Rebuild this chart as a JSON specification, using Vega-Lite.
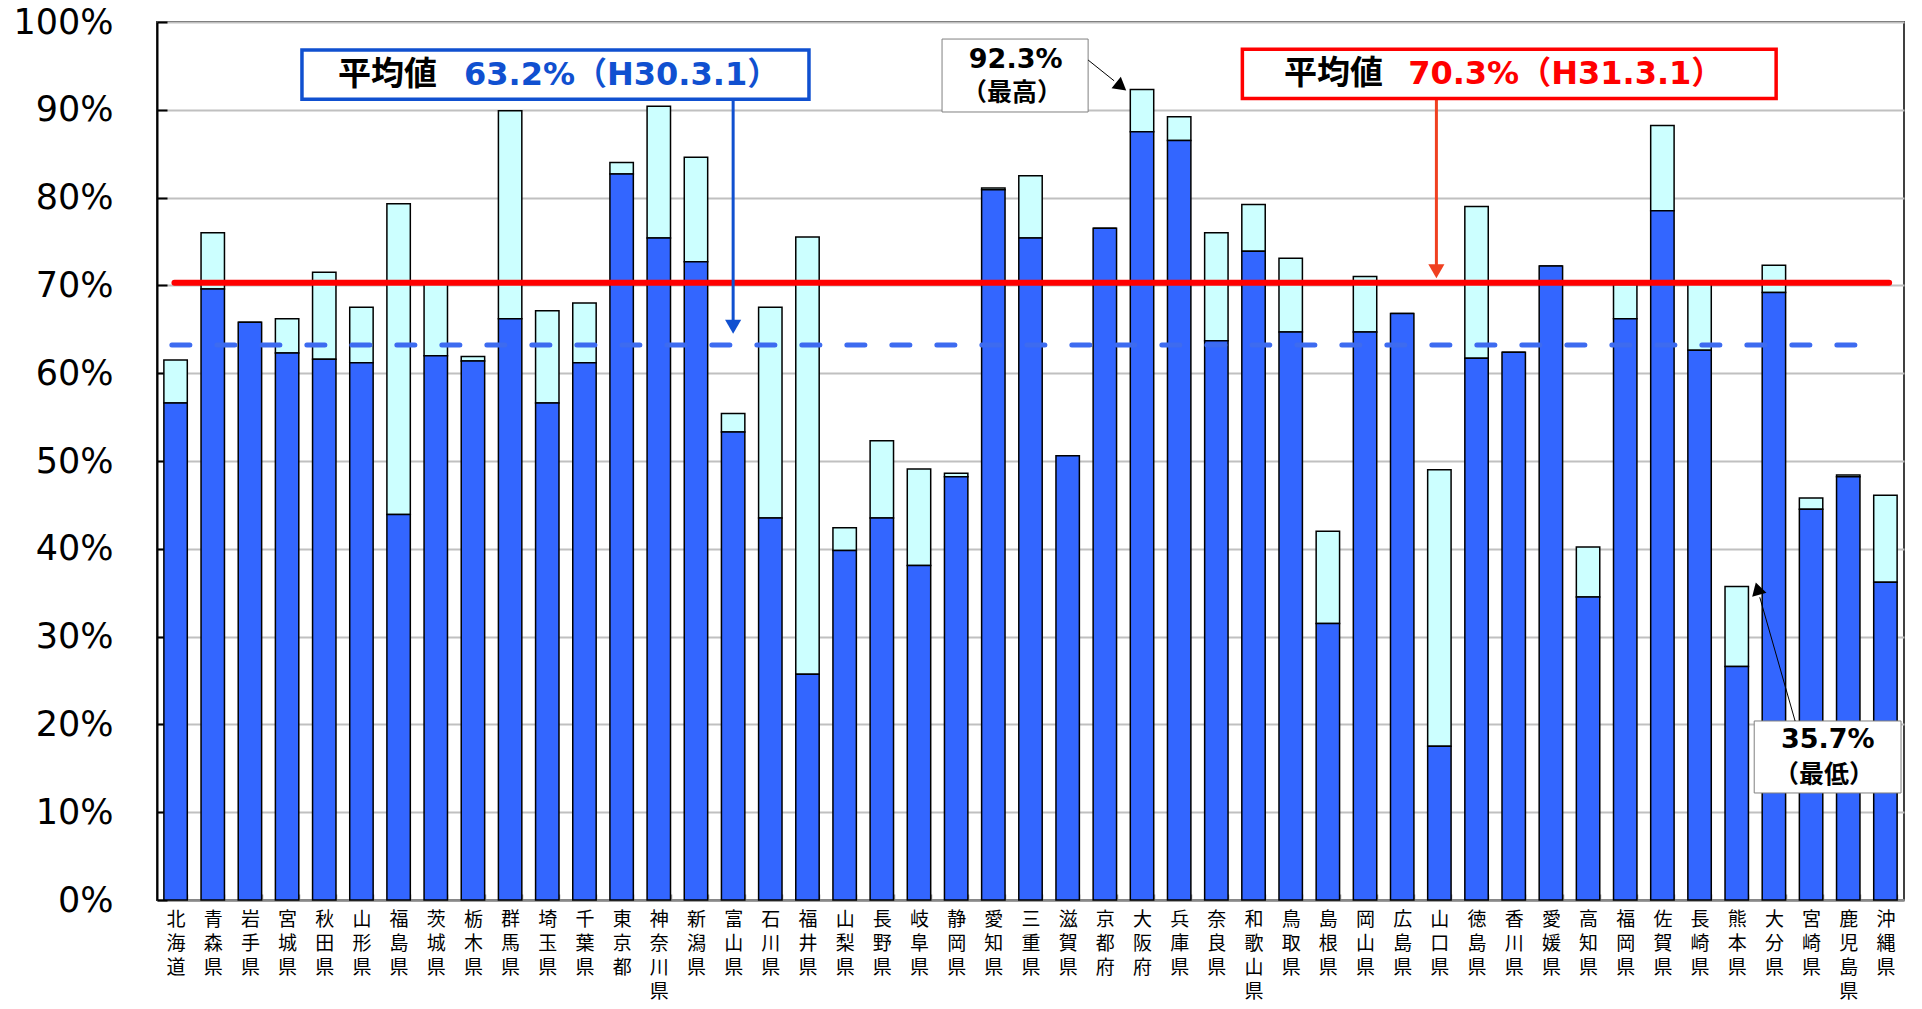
{
  "$schema": "https://vega.github.io/schema/vega-lite/v6.json",
  "width": 1747,
  "height": 878,
  "autosize": {"type": "none"},
  "padding": {"left": 157, "top": 22, "right": 18, "bottom": 109},
  "background": "white",
  "config": {
    "view": {"stroke": "#404040", "strokeWidth": 2},
    "font": "Noto Sans CJK JP"
  },
  "layer": [
    {
      "data": {
        "values": [
          {"pref": "北海道", "h30": 56.6, "h31": 61.5},
          {"pref": "青森県", "h30": 69.6, "h31": 76.0},
          {"pref": "岩手県", "h30": 65.8, "h31": 65.8},
          {"pref": "宮城県", "h30": 62.3, "h31": 66.2},
          {"pref": "秋田県", "h30": 61.6, "h31": 71.5},
          {"pref": "山形県", "h30": 61.2, "h31": 67.5},
          {"pref": "福島県", "h30": 43.9, "h31": 79.3},
          {"pref": "茨城県", "h30": 62.0, "h31": 70.2},
          {"pref": "栃木県", "h30": 61.4, "h31": 61.9},
          {"pref": "群馬県", "h30": 66.2, "h31": 89.9},
          {"pref": "埼玉県", "h30": 56.6, "h31": 67.1},
          {"pref": "千葉県", "h30": 61.2, "h31": 68.0},
          {"pref": "東京都", "h30": 82.7, "h31": 84.0},
          {"pref": "神奈川県", "h30": 75.4, "h31": 90.4},
          {"pref": "新潟県", "h30": 72.7, "h31": 84.6},
          {"pref": "富山県", "h30": 53.3, "h31": 55.4},
          {"pref": "石川県", "h30": 43.5, "h31": 67.5},
          {"pref": "福井県", "h30": 25.7, "h31": 75.5},
          {"pref": "山梨県", "h30": 39.8, "h31": 42.4},
          {"pref": "長野県", "h30": 43.5, "h31": 52.3},
          {"pref": "岐阜県", "h30": 38.1, "h31": 49.1},
          {"pref": "静岡県", "h30": 48.2, "h31": 48.6},
          {"pref": "愛知県", "h30": 80.9, "h31": 81.1},
          {"pref": "三重県", "h30": 75.4, "h31": 82.5},
          {"pref": "滋賀県", "h30": 50.6, "h31": 50.6},
          {"pref": "京都府", "h30": 76.5, "h31": 76.5},
          {"pref": "大阪府", "h30": 87.5, "h31": 92.3},
          {"pref": "兵庫県", "h30": 86.5, "h31": 89.2},
          {"pref": "奈良県", "h30": 63.7, "h31": 76.0},
          {"pref": "和歌山県", "h30": 73.9, "h31": 79.2},
          {"pref": "鳥取県", "h30": 64.7, "h31": 73.1},
          {"pref": "島根県", "h30": 31.5, "h31": 42.0},
          {"pref": "岡山県", "h30": 64.7, "h31": 71.0},
          {"pref": "広島県", "h30": 66.8, "h31": 66.8},
          {"pref": "山口県", "h30": 17.5, "h31": 49.0},
          {"pref": "徳島県", "h30": 61.7, "h31": 79.0},
          {"pref": "香川県", "h30": 62.4, "h31": 62.4},
          {"pref": "愛媛県", "h30": 72.2, "h31": 72.2},
          {"pref": "高知県", "h30": 34.5, "h31": 40.2},
          {"pref": "福岡県", "h30": 66.2, "h31": 70.1},
          {"pref": "佐賀県", "h30": 78.5, "h31": 88.2},
          {"pref": "長崎県", "h30": 62.6, "h31": 70.4},
          {"pref": "熊本県", "h30": 26.6, "h31": 35.7},
          {"pref": "大分県", "h30": 69.2, "h31": 72.3},
          {"pref": "宮崎県", "h30": 44.5, "h31": 45.8},
          {"pref": "鹿児島県", "h30": 48.2, "h31": 48.4},
          {"pref": "沖縄県", "h30": 36.2, "h31": 46.1}
        ]
      },
      "encoding": {
        "x": {
          "field": "pref", "type": "nominal", "sort": null,
          "scale": {"paddingInner": 0.37, "paddingOuter": 0.185},
          "axis": {
            "title": null, "labelAngle": 0,
            "labelExpr": "split(datum.label, '')",
            "labelFont": "Noto Sans CJK JP", "labelFontSize": 19, "labelLineHeight": 24,
            "labelColor": "#000", "labelPadding": 16, "labelBaseline": "top",
            "labelOverlap": false, "labelLimit": 0,
            "tickBand": "extent", "tickSize": -6, "tickColor": "#999", "tickWidth": 1.5,
            "domainColor": "#888", "domainWidth": 2.5, "grid": false
          }
        }
      },
      "layer": [
        {
          "mark": {"type": "bar", "fill": "#CCFFFF", "stroke": "#000", "strokeWidth": 1.5},
          "encoding": {
            "y": {
              "field": "h30", "type": "quantitative",
              "scale": {"domain": [0, 100], "nice": false},
              "axis": {
                "title": null, "values": [0, 10, 20, 30, 40, 50, 60, 70, 80, 90, 100],
                "labelExpr": "datum.value + '%'",
                "labelFont": "DejaVu Sans", "labelFontSize": 35, "labelColor": "#000",
                "labelPadding": 54, "tickSize": -10, "tickColor": "#000", "tickWidth": 2,
                "domainColor": "#000", "domainWidth": 2,
                "grid": true, "gridColor": "#C0C0C0", "gridWidth": 2
              }
            },
            "y2": {"field": "h31"}
          }
        },
        {
          "mark": {"type": "bar", "fill": "#3366FF", "stroke": "#000", "strokeWidth": 1.5},
          "encoding": {
            "y": {"field": "h30", "type": "quantitative"}
          }
        }
      ]
    },
    {
      "data": {"values": [{}]},
      "layer": [
        {
          "mark": {"type": "rule", "color": "#FF0000", "strokeWidth": 6, "strokeCap": "round"},
          "encoding": {
            "x": {"datum": 0.47, "type": "quantitative", "scale": {"domain": [0, 47], "nice": false, "zero": false}, "axis": null},
            "x2": {"datum": 46.6},
            "y": {"datum": 70.3, "type": "quantitative", "scale": {"domain": [0, 100], "nice": false}, "axis": null}
          }
        },
        {
          "mark": {"type": "rule", "color": "#3D6BF0", "strokeWidth": 5, "strokeCap": "round", "strokeDash": [18, 27]},
          "encoding": {
            "x": {"datum": 0.4, "type": "quantitative", "scale": {"domain": [0, 47], "nice": false, "zero": false}, "axis": null},
            "x2": {"datum": 46.3},
            "y": {"datum": 63.2, "type": "quantitative", "scale": {"domain": [0, 100], "nice": false}, "axis": null}
          }
        },
        {
          "mark": {"type": "rule", "color": "#1050D0", "strokeWidth": 3},
          "encoding": {
            "x": {"datum": 15.5, "type": "quantitative", "scale": {"domain": [0, 47], "nice": false, "zero": false}, "axis": null},
            "y": {"datum": 91.2, "type": "quantitative", "scale": {"domain": [0, 100], "nice": false}, "axis": null},
            "y2": {"datum": 66.0}
          }
        },
        {
          "mark": {"type": "point", "shape": "triangle-down", "filled": true, "color": "#1050D0", "opacity": 1, "size": 260},
          "encoding": {
            "x": {"datum": 15.5, "type": "quantitative", "scale": {"domain": [0, 47], "nice": false, "zero": false}, "axis": null},
            "y": {"datum": 65.3, "type": "quantitative", "scale": {"domain": [0, 100], "nice": false}, "axis": null}
          }
        },
        {
          "mark": {"type": "rule", "color": "#F04020", "strokeWidth": 3},
          "encoding": {
            "x": {"datum": 34.42, "type": "quantitative", "scale": {"domain": [0, 47], "nice": false, "zero": false}, "axis": null},
            "y": {"datum": 91.3, "type": "quantitative", "scale": {"domain": [0, 100], "nice": false}, "axis": null},
            "y2": {"datum": 72.2}
          }
        },
        {
          "mark": {"type": "point", "shape": "triangle-down", "filled": true, "color": "#F04020", "opacity": 1, "size": 260},
          "encoding": {
            "x": {"datum": 34.42, "type": "quantitative", "scale": {"domain": [0, 47], "nice": false, "zero": false}, "axis": null},
            "y": {"datum": 71.6, "type": "quantitative", "scale": {"domain": [0, 100], "nice": false}, "axis": null}
          }
        },
        {
          "mark": {"type": "rect", "fill": "white", "stroke": "#1050D0", "strokeWidth": 3.5},
          "encoding": {
            "x": {"datum": 3.9, "type": "quantitative", "scale": {"domain": [0, 47], "nice": false, "zero": false}, "axis": null},
            "x2": {"datum": 17.54},
            "y": {"datum": 96.8, "type": "quantitative", "scale": {"domain": [0, 100], "nice": false}, "axis": null},
            "y2": {"datum": 91.2}
          }
        },
        {
          "mark": {"type": "text", "text": "平均値", "font": "Noto Sans CJK JP", "fontWeight": "bold", "fontSize": 33, "align": "left", "baseline": "middle", "color": "#000"},
          "encoding": {
            "x": {"datum": 4.87, "type": "quantitative", "scale": {"domain": [0, 47], "nice": false, "zero": false}, "axis": null},
            "y": {"datum": 94.0, "type": "quantitative", "scale": {"domain": [0, 100], "nice": false}, "axis": null}
          }
        },
        {
          "mark": {"type": "text", "text": "63.2%（H30.3.1）", "font": "DejaVu Sans, Noto Sans CJK JP", "fontWeight": "bold", "fontSize": 32, "align": "left", "baseline": "middle", "color": "#1050D0"},
          "encoding": {
            "x": {"datum": 8.26, "type": "quantitative", "scale": {"domain": [0, 47], "nice": false, "zero": false}, "axis": null},
            "y": {"datum": 94.0, "type": "quantitative", "scale": {"domain": [0, 100], "nice": false}, "axis": null}
          }
        },
        {
          "mark": {"type": "rect", "fill": "white", "stroke": "#FF0000", "strokeWidth": 3.5},
          "encoding": {
            "x": {"datum": 29.2, "type": "quantitative", "scale": {"domain": [0, 47], "nice": false, "zero": false}, "axis": null},
            "x2": {"datum": 43.56},
            "y": {"datum": 96.9, "type": "quantitative", "scale": {"domain": [0, 100], "nice": false}, "axis": null},
            "y2": {"datum": 91.3}
          }
        },
        {
          "mark": {"type": "text", "text": "平均値", "font": "Noto Sans CJK JP", "fontWeight": "bold", "fontSize": 33, "align": "left", "baseline": "middle", "color": "#000"},
          "encoding": {
            "x": {"datum": 30.32, "type": "quantitative", "scale": {"domain": [0, 47], "nice": false, "zero": false}, "axis": null},
            "y": {"datum": 94.1, "type": "quantitative", "scale": {"domain": [0, 100], "nice": false}, "axis": null}
          }
        },
        {
          "mark": {"type": "text", "text": "70.3%（H31.3.1）", "font": "DejaVu Sans, Noto Sans CJK JP", "fontWeight": "bold", "fontSize": 32, "align": "left", "baseline": "middle", "color": "#FF0000"},
          "encoding": {
            "x": {"datum": 33.66, "type": "quantitative", "scale": {"domain": [0, 47], "nice": false, "zero": false}, "axis": null},
            "y": {"datum": 94.1, "type": "quantitative", "scale": {"domain": [0, 100], "nice": false}, "axis": null}
          }
        },
        {
          "mark": {"type": "rect", "fill": "white", "stroke": "#808080", "strokeWidth": 1},
          "encoding": {
            "x": {"datum": 21.12, "type": "quantitative", "scale": {"domain": [0, 47], "nice": false, "zero": false}, "axis": null},
            "x2": {"datum": 25.05},
            "y": {"datum": 98.06, "type": "quantitative", "scale": {"domain": [0, 100], "nice": false}, "axis": null},
            "y2": {"datum": 89.75}
          }
        },
        {
          "mark": {"type": "text", "text": "92.3%", "font": "DejaVu Sans", "fontWeight": "bold", "fontSize": 27, "align": "center", "baseline": "middle", "color": "#000"},
          "encoding": {
            "x": {"datum": 23.1, "type": "quantitative", "scale": {"domain": [0, 47], "nice": false, "zero": false}, "axis": null},
            "y": {"datum": 95.67, "type": "quantitative", "scale": {"domain": [0, 100], "nice": false}, "axis": null}
          }
        },
        {
          "mark": {"type": "text", "text": "（最高）", "font": "Noto Sans CJK JP", "fontWeight": "bold", "fontSize": 25, "align": "center", "baseline": "middle", "color": "#000"},
          "encoding": {
            "x": {"datum": 23.0, "type": "quantitative", "scale": {"domain": [0, 47], "nice": false, "zero": false}, "axis": null},
            "y": {"datum": 91.9, "type": "quantitative", "scale": {"domain": [0, 100], "nice": false}, "axis": null}
          }
        },
        {
          "mark": {"type": "rule", "color": "#000", "strokeWidth": 1},
          "encoding": {
            "x": {"datum": 25.05, "type": "quantitative", "scale": {"domain": [0, 47], "nice": false, "zero": false}, "axis": null},
            "x2": {"datum": 25.75},
            "y": {"datum": 95.67, "type": "quantitative", "scale": {"domain": [0, 100], "nice": false}, "axis": null},
            "y2": {"datum": 93.3}
          }
        },
        {
          "mark": {"type": "point", "shape": "triangle-right", "filled": true, "color": "#000", "opacity": 1, "size": 220, "angle": 38.7},
          "encoding": {
            "x": {"datum": 25.94, "type": "quantitative", "scale": {"domain": [0, 47], "nice": false, "zero": false}, "axis": null},
            "y": {"datum": 92.66, "type": "quantitative", "scale": {"domain": [0, 100], "nice": false}, "axis": null}
          }
        },
        {
          "mark": {"type": "rect", "fill": "white", "stroke": "#808080", "strokeWidth": 1},
          "encoding": {
            "x": {"datum": 42.97, "type": "quantitative", "scale": {"domain": [0, 47], "nice": false, "zero": false}, "axis": null},
            "x2": {"datum": 46.92},
            "y": {"datum": 20.39, "type": "quantitative", "scale": {"domain": [0, 100], "nice": false}, "axis": null},
            "y2": {"datum": 12.19}
          }
        },
        {
          "mark": {"type": "text", "text": "35.7%", "font": "DejaVu Sans", "fontWeight": "bold", "fontSize": 27, "align": "center", "baseline": "middle", "color": "#000"},
          "encoding": {
            "x": {"datum": 44.95, "type": "quantitative", "scale": {"domain": [0, 47], "nice": false, "zero": false}, "axis": null},
            "y": {"datum": 18.2, "type": "quantitative", "scale": {"domain": [0, 100], "nice": false}, "axis": null}
          }
        },
        {
          "mark": {"type": "text", "text": "（最低）", "font": "Noto Sans CJK JP", "fontWeight": "bold", "fontSize": 25, "align": "center", "baseline": "middle", "color": "#000"},
          "encoding": {
            "x": {"datum": 44.85, "type": "quantitative", "scale": {"domain": [0, 47], "nice": false, "zero": false}, "axis": null},
            "y": {"datum": 14.2, "type": "quantitative", "scale": {"domain": [0, 100], "nice": false}, "axis": null}
          }
        },
        {
          "mark": {"type": "rule", "color": "#000", "strokeWidth": 1},
          "encoding": {
            "x": {"datum": 44.07, "type": "quantitative", "scale": {"domain": [0, 47], "nice": false, "zero": false}, "axis": null},
            "x2": {"datum": 43.12},
            "y": {"datum": 20.39, "type": "quantitative", "scale": {"domain": [0, 100], "nice": false}, "axis": null},
            "y2": {"datum": 34.48}
          }
        },
        {
          "mark": {"type": "point", "shape": "triangle-up", "filled": true, "color": "#000", "opacity": 1, "size": 220, "angle": -15.8},
          "encoding": {
            "x": {"datum": 43.06, "type": "quantitative", "scale": {"domain": [0, 47], "nice": false, "zero": false}, "axis": null},
            "y": {"datum": 35.46, "type": "quantitative", "scale": {"domain": [0, 100], "nice": false}, "axis": null}
          }
        }
      ]
    }
  ],
  "resolve": {"scale": {"x": "independent", "y": "independent"}}
}
